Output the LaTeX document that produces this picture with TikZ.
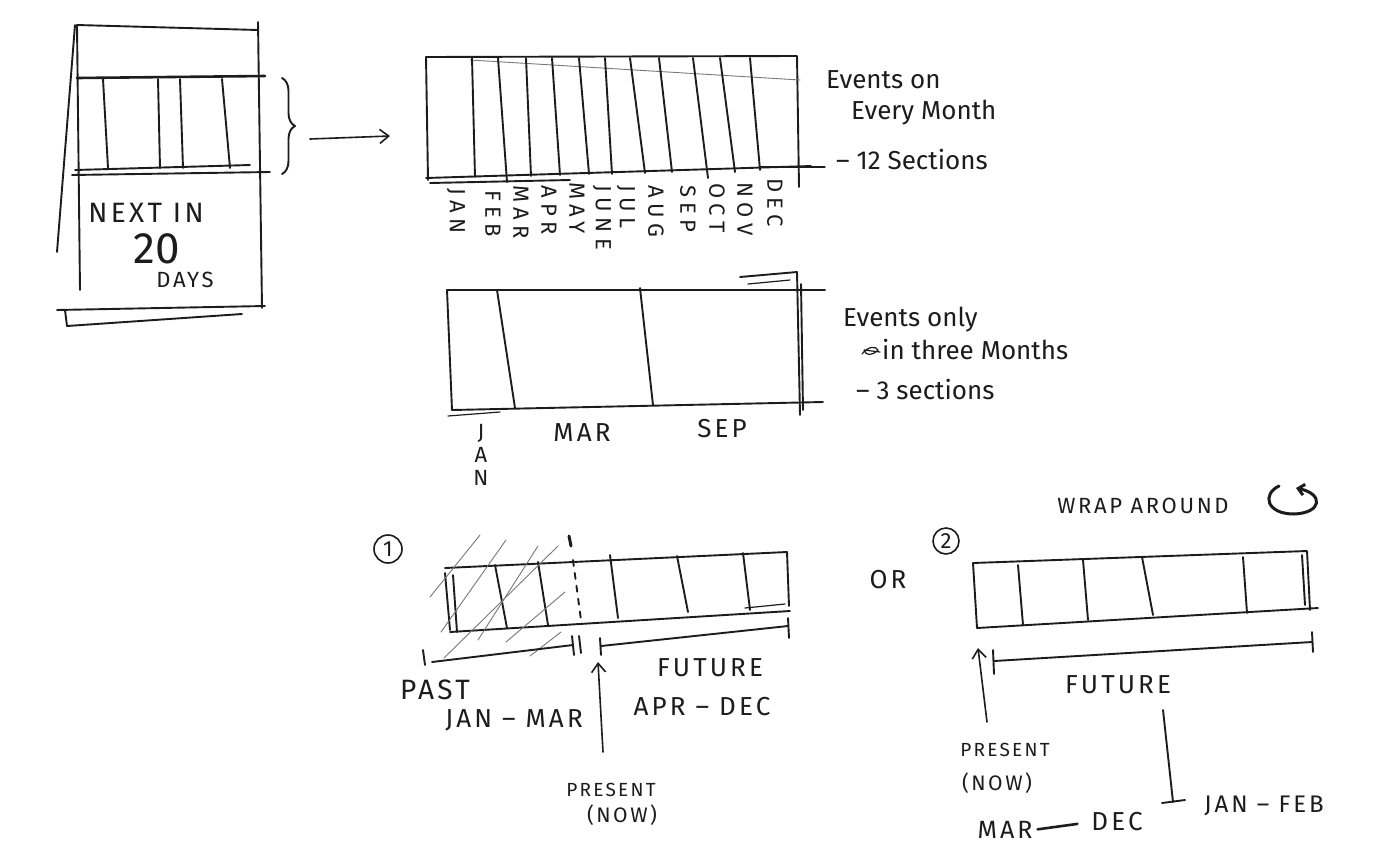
\documentclass[tikz,border=0pt]{standalone}
\usepackage{fontspec}
\setmainfont{Fira Sans}
\newfontfamily\spaced{Fira Sans}[LetterSpace=12]
\newfontfamily\wide{Fira Sans}[LetterSpace=25]
\usetikzlibrary{arrows.meta, decorations.pathreplacing, positioning}
\definecolor{ink}{RGB}{28,28,28}
\definecolor{pencil}{RGB}{120,120,120}

\begin{document}
\begin{tikzpicture}[
    x=1pt, y=-1pt, line cap=round, line join=round,
    pen/.style={draw=ink, line width=1.9pt},
    thinpen/.style={draw=ink, line width=1.2pt},
    hatch/.style={draw=pencil, line width=0.9pt},
    lbl/.style={text=ink, inner sep=0pt, font=\fontsize{26}{30}\selectfont\spaced},
    smalllbl/.style={lbl, font=\fontsize{19}{22}\selectfont\spaced},
    note/.style={text=ink, inner sep=0pt, anchor=west, font=\fontsize{26}{30}\selectfont},
    mon/.style={lbl, rotate=-90, anchor=west, font=\fontsize{22}{24}\selectfont\wide},
    arr/.style={-{Straight Barb[length=9pt, width=14pt]}, line width=1.6pt, ink},
    circ/.style={circle, draw=ink, line width=1.6pt, minimum size=28pt, inner sep=0pt,
      text=ink, font=\fontsize{22}{24}\selectfont}
]
\useasboundingbox[fill=white] (0,0) rectangle (1396,863);

% widget
\draw[pen] (75,25) -- (57,252);
\draw[pen] (77,25) -- (80,290);
\draw[pen] (77,25) -- (258,30);
\draw[pen] (258,22) -- (262,308);
\draw[pen, line width=2.6pt] (77,78) -- (265,76);
\draw[pen] (75,170) -- (250,165);
\draw[pen] (72,175) -- (270,172);
\foreach \xa/\xb in {103/108, 158/160, 180/183, 222/230}
  \draw[pen] (\xa,79) -- (\xb,168);
\draw[pen] (57,310) -- (265,306);
\draw[pen] (67,326) -- (242,314);
\draw[pen] (65,310) -- (67,326);
\node[lbl, font=\fontsize{28}{32}\selectfont\spaced] (nextin) at (146,213) {NEXT IN};
\node[lbl, font=\fontsize{44}{46}\selectfont] (twenty) at (157,249) {20};
\node[lbl, font=\fontsize{22}{24}\selectfont\spaced] (days) at (185,280) {DAYS};

\draw[pen, decorate, decoration={brace, amplitude=13pt}] (282,78) -- (282,174);
\coordinate (zoomS) at (310,139);
\coordinate (zoomE) at (390,136);
\draw[arr] (zoomS) -- (zoomE);

% twelve sections
\draw[pen] (426,57) -- (797,56) -- (799,187);
\draw[pen] (426,57) -- (428,180);
\draw[pen] (426,178) -- (811,166);
\draw[pen] (430,183) -- (570,180);
\draw[hatch] (470,60) -- (800,80);
\draw[thinpen] (760,167) -- (825,167);
\foreach \xa/\xb/\yb in {472/475/177, 498/507/182, 526/531/176, 552/560/175,
    579/589/174, 605/612/174, 630/645/173, 659/672/172, 693/708/178,
    720/735/172, 750/760/170}
  \draw[pen] (\xa,58) -- (\xb,\yb);
\foreach \mx/\my/\mname in {456/188/JAN, 493/190/FEB, 521/185/MAR, 549/185/APR,
    577/182/MAY, 602/185/JUNE, 626/185/JUL, 656/185/AUG, 688/185/SEP,
    717/183/OCT, 745/182/NOV, 775/178/DEC}
  \node[mon] (m\mname) at (\mx,\my) {\mname};
\node[note] (evA) at (826,80) {Events on};
\node[note] (evB) at (851,113) {Every Month};
\node[note] (evC) at (836,160) {– 12 Sections};

% three sections
\draw[pen] (447,290) -- (825,290);
\draw[pen] (740,277) -- (797,272) -- (800,415);
\draw[thinpen] (748,284) -- (790,280);
\draw[pen] (801,284) -- (803,410);
\draw[pen] (447,290) -- (452,410);
\draw[pen] (452,410) -- (823,402);
\draw[thinpen] (448,416) -- (500,412);
\draw[pen] (497,290) -- (515,408);
\draw[pen] (640,288) -- (653,405);
\node[lbl, align=center, font=\fontsize{22}{23}\selectfont] (jan3) at (481,455) {J\\A\\N};
\node[lbl] (mar3) at (582,433) {MAR};
\node[lbl] (sep3) at (722,429) {SEP};
\node[note] (onlyA) at (843,320) {Events only};
\draw[thinpen] (862,354) .. controls (868,346) and (876,346) .. (878,350)
  .. controls (872,356) and (866,356) .. (864,350) -- (880,352);
\node[note] (onlyB) at (882,350) {in three Months};
\node[note] (onlyC) at (856,390) {– 3 sections};

% option one
\node[circ] (one) at (388,549) {1};
\draw[pen] (445,568) -- (787,552) -- (789,606);
\draw[pen] (445,573) -- (450,630);
\draw[pen] (453,575) -- (457,632);
\draw[pen] (450,632) -- (790,611);
\draw[thinpen] (745,608) -- (785,604);
\foreach \xa/\ya/\xb/\yb in {495/565/507/628, 538/562/548/625, 610/555/618/618,
    677/556/688/612, 743/553/750/610}
  \draw[pen] (\xa,\ya) -- (\xb,\yb);
\draw[pen, dashed, dash pattern=on 6pt off 7pt] (573,560) -- (581,620);
\draw[pen, line width=3pt] (569,536) -- (571,546);
\foreach \xa/\ya/\xb/\yb in {430/597/480/535, 441/632/506/540, 444/658/558/546,
    478/640/538/546, 506/642/565/592, 530/656/561/632}
  \draw[hatch] (\xa,\ya) -- (\xb,\yb);
\draw[pen] (423,650) -- (425,665);
\draw[pen] (432,662) -- (573,645);
\draw[pen] (572,636) -- (574,655);
\draw[pen] (579,636) -- (581,653);
\draw[pen] (600,638) -- (601,655);
\draw[pen] (601,646) -- (788,626);
\draw[pen] (788,618) -- (789,638);
\node[lbl, font=\fontsize{28}{32}\selectfont\spaced] (past1) at (435,690) {PAST};
\node[lbl] (janmar1) at (514,720) {JAN – MAR};
\node[lbl] (future1) at (710,668) {FUTURE};
\node[lbl] (aprdec1) at (702,707) {APR – DEC};
\node[smalllbl] (present1) at (611,790) {PRESENT};
\node[smalllbl, font=\fontsize{21}{24}\selectfont\spaced] (now1) at (622,815) {(NOW)};
\coordinate (nowtail1) at (603,752);
\coordinate (nowtip1) at (598,662);
\draw[arr] (nowtail1) -- (nowtip1);

\node[lbl] (orword) at (888,580) {OR};

% option two
\node[circ, minimum size=26pt] (two) at (946,541) {2};
\draw[pen] (973,563) -- (1307,551) -- (1310,610);
\draw[pen] (1302,555) -- (1305,605);
\draw[pen] (973,563) -- (977,628);
\draw[pen] (977,628) -- (1318,608);
\foreach \xa/\ya/\xb/\yb in {1018/565/1023/625, 1083/560/1088/620,
    1142/557/1153/615, 1243/557/1247/613}
  \draw[pen] (\xa,\ya) -- (\xb,\yb);
\draw[pen] (993,650) -- (994,674);
\draw[pen] (994,661) -- (1312,642);
\draw[pen] (1312,632) -- (1313,652);
\coordinate (nowtail2) at (987,722);
\coordinate (nowtip2) at (978,648);
\draw[arr] (nowtail2) -- (nowtip2);
\node[smalllbl] (present2) at (1005,750) {PRESENT};
\node[smalllbl, font=\fontsize{21}{24}\selectfont\spaced] (now2) at (997,783) {(NOW)};
\node[lbl] (future2) at (1118,685) {FUTURE};
\coordinate (wrapT) at (1163,710);
\coordinate (wrapB) at (1173,802);
\draw[pen] (wrapT) -- (wrapB);
\draw[pen] (1162,803) -- (1185,800);
\node[lbl, font=\fontsize{25}{28}\selectfont\spaced] (mar2) at (1005,830) {MAR};
\node[lbl] (dec2) at (1117,822) {DEC};
\draw[pen, line width=2.6pt, shorten <=5pt, shorten >=14pt] (mar2.east) -- (dec2.west);
\node[lbl, font=\fontsize{24}{28}\selectfont\spaced] (janfeb2) at (1264,806) {JAN – FEB};
\node[lbl, font=\fontsize{22}{26}\selectfont\spaced] (wrap) at (1143,506) {WRAP AROUND};
\coordinate (loopS) at (1279,486);
\coordinate (loopE) at (1296,488);
\draw[pen, line width=3pt, -{Straight Barb[length=6pt, width=11pt]}]
  (loopS) .. controls (1262,494) and (1266,514) .. (1294,514)
  .. controls (1322,513) and (1324,494) .. (loopE);
\end{tikzpicture}
\end{document}
